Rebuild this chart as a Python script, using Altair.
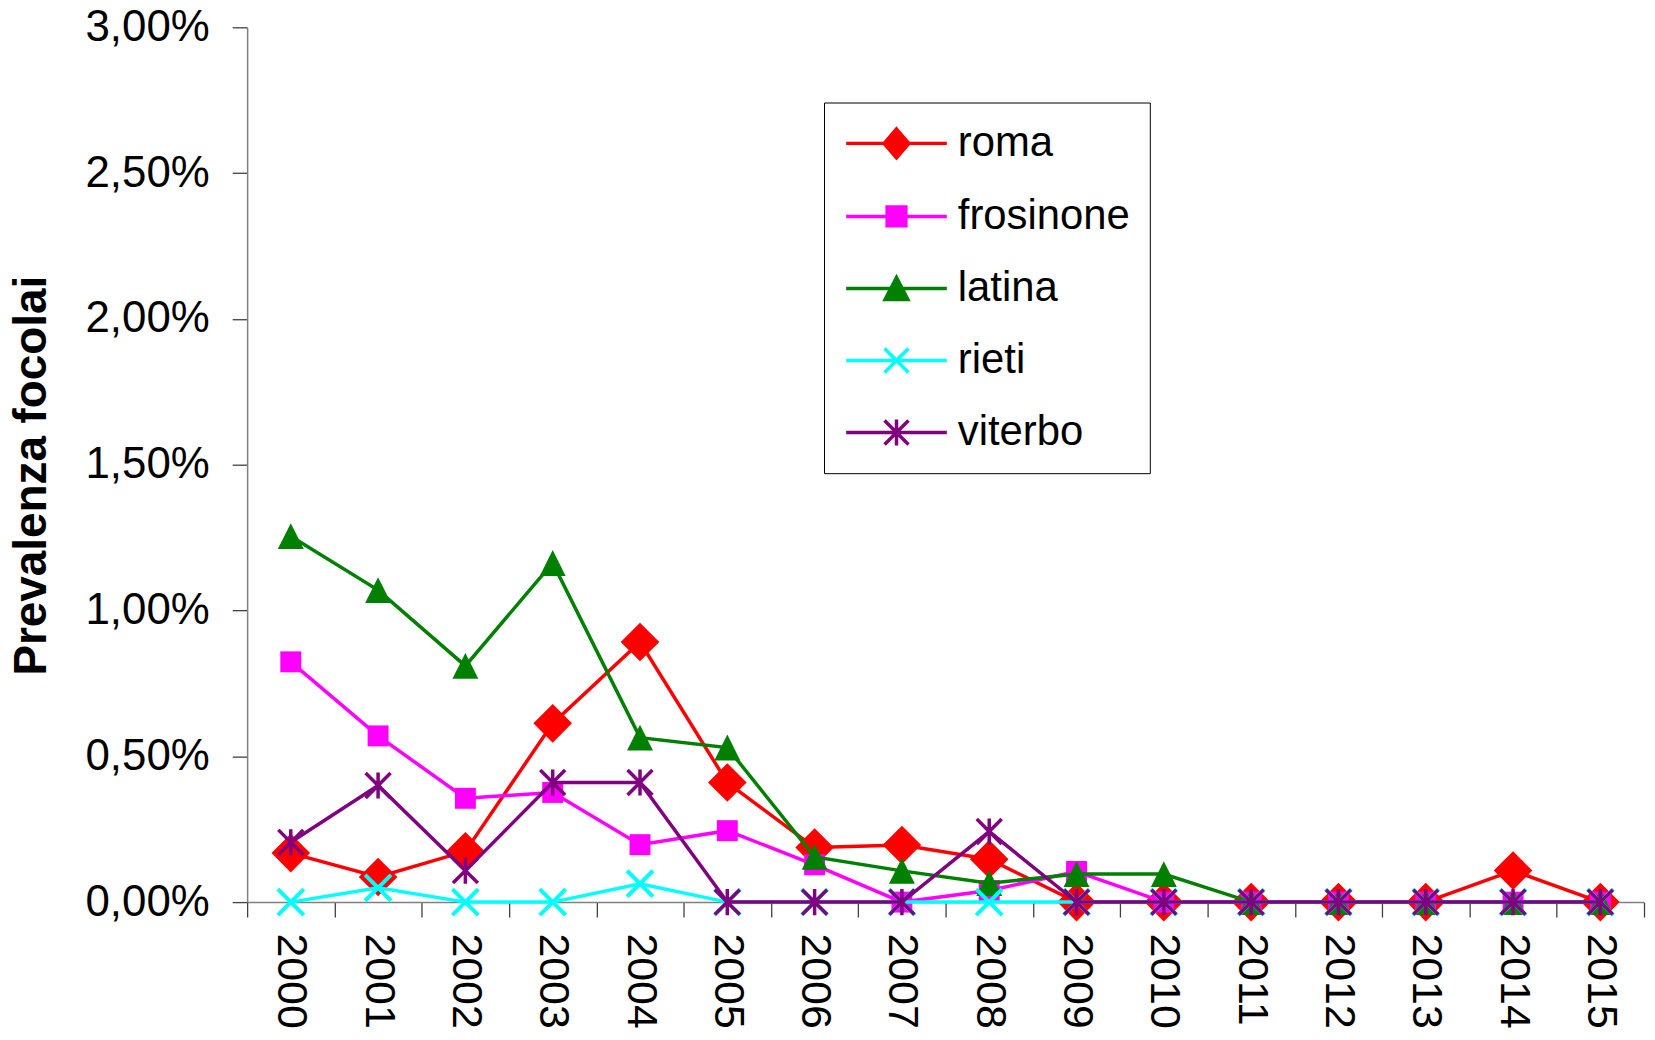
import altair as alt
import pandas as pd

years = [str(y) for y in range(2000, 2016)]
series = ["roma", "frosinone", "latina", "rieti", "viterbo"]
colors = ["#FF0000", "#FF00FF", "#008000", "#00FFFF", "#800080"]

# values in percent
roma = [0.168, 0.086, 0.174, 0.613, 0.892, 0.410, 0.187, 0.196, 0.147, 0, 0, 0, 0, 0, 0.108, 0]
frosinone = [0.824, 0.570, 0.356, 0.376, 0.197, 0.245, 0.128, 0, 0.040, 0.105, 0, 0, 0, 0, 0, 0]
latina = [1.255, 1.070, 0.810, 1.163, 0.564, 0.530, 0.155, 0.107, 0.065, 0.096, 0.096, 0, 0, 0, 0, 0]
rieti = [0, 0.049, 0, 0, 0.063, 0, 0, 0, 0, 0, 0, 0, 0, 0, 0, 0]
viterbo = [0.205, 0.400, 0.108, 0.410, 0.410, 0, 0, 0, 0.242, 0, 0, 0, 0, 0, 0, 0]

y_ticks = [0, 0.005, 0.01, 0.015, 0.02, 0.025, 0.03]

all_vals = [roma, frosinone, latina, rieti, viterbo]
rows = []
for name, vals in zip(series, all_vals):
    for yr, v in zip(years, vals):
        rows.append({"anno": yr, "serie": name, "valore": v / 100})
df = pd.DataFrame(rows)

FONT = "Liberation Sans"

x_enc = alt.X(
    "anno:O",
    sort=years,
    scale=alt.Scale(type="band", domain=years, paddingInner=0, paddingOuter=0),
    axis=alt.Axis(
        title=None,
        tickBand="extent",
        labelAngle=90,
        labelAlign="left",
        labelBaseline="middle",
        labelFontSize=43,
        labelFont=FONT,
        labelColor="black",
        labelPadding=16,
        tickSize=15,
        tickColor="#404040",
        tickWidth=1.3,
        domainColor="#808080",
        domainWidth=1.5,
        grid=False,
    ),
)

y_enc = alt.Y(
    "valore:Q",
    scale=alt.Scale(domain=[0, 0.03], nice=False, zero=True),
    axis=alt.Axis(
        values=y_ticks,
        labelExpr="replace(format(datum.value, '.2%'), '.', ',')",
        labelFontSize=44,
        labelFont=FONT,
        labelColor="black",
        labelPadding=23,
        tickSize=15,
        tickColor="#404040",
        tickWidth=1.3,
        domainColor="#808080",
        domainWidth=1.5,
        grid=False,
        title="Prevalenza focolai",
        titleFont=FONT,
        titleFontSize=46,
        titleFontWeight="bold",
        titleColor="black",
        titleX=-216,
        titleY=449.5,
        titleAngle=270,
        titleAlign="center",
        titleBaseline="middle",
    ),
)

marker_defs = {
    "roma": dict(shape="diamond", filled=True, size=1500, strokeWidth=0),
    "frosinone": dict(shape="square", filled=True, size=441, strokeWidth=0),
    "latina": dict(shape="M0,-1L1,1L-1,1Z", filled=True, size=676, strokeWidth=0),
    "rieti": dict(shape="M-1,-1L1,1M-1,1L1,-1", filled=False, size=676, strokeWidth=4),
    "viterbo": dict(shape="M-1,-1L1,1M-1,1L1,-1M0,-1.05L0,1.05", filled=False, size=625, strokeWidth=3.5),
}

legend_paths = [
    "M-2.525,0L2.525,0M0,-0.72L0.62,0L0,0.72L-0.62,0Z",
    "M-2.525,0L2.525,0M-0.47,-0.47L0.47,-0.47L0.47,0.47L-0.47,0.47Z",
    "M-2.525,0L2.525,0M0,-0.55L0.57,0.55L-0.57,0.55Z",
    "M-2.525,0L2.525,0M-0.6,-0.6L0.6,0.6M-0.6,0.6L0.6,-0.6",
    "M-2.525,0L2.525,0M-0.6,-0.6L0.6,0.6M-0.6,0.6L0.6,-0.6M0,-0.65L0,0.65",
]

layers = []
for name, col in zip(series, colors):
    sub = df[df["serie"] == name]
    layers.append(
        alt.Chart(sub).mark_line(color=col, strokeWidth=3.5).encode(x=x_enc, y=y_enc)
    )
    layers.append(
        alt.Chart(sub).mark_point(color=col, opacity=1, **marker_defs[name]).encode(x=x_enc, y=y_enc)
    )

leg = alt.Legend(
    title=None,
    orient="none",
    legendX=579,
    legendY=75.5,
    symbolSize=1600,
    symbolStrokeWidth=3.5,
    symbolOffset=31.75,
    labelOffset=39.5,
    labelFont=FONT,
    labelFontSize=42,
    labelColor="black",
    labelLimit=0,
    padding=19,
    rowPadding=29.3,
    strokeColor="black",
    fillColor="white",
    cornerRadius=0,
)

dummy = (
    alt.Chart(df)
    .transform_filter("false")
    .mark_point(opacity=1, filled=True, strokeWidth=3.5)
    .encode(
        x=x_enc,
        y=y_enc,
        fill=alt.Fill("serie:N", scale=alt.Scale(domain=series, range=colors), legend=leg),
        stroke=alt.Stroke("serie:N", scale=alt.Scale(domain=series, range=colors), legend=leg),
        shape=alt.Shape("serie:N", scale=alt.Scale(domain=series, range=legend_paths), legend=leg),
    )
)

chart = (
    alt.layer(*layers, dummy)
    .properties(
        width=1402,
        height=878,
        autosize=alt.AutoSizeParams(type="none"),
        padding={"left": 240, "top": 17.5, "right": 3, "bottom": 128.5},
        background="white",
    )
    .configure_view(stroke=None)
)

chart.save("out.html", embed_options={"renderer": "svg", "actions": False})
